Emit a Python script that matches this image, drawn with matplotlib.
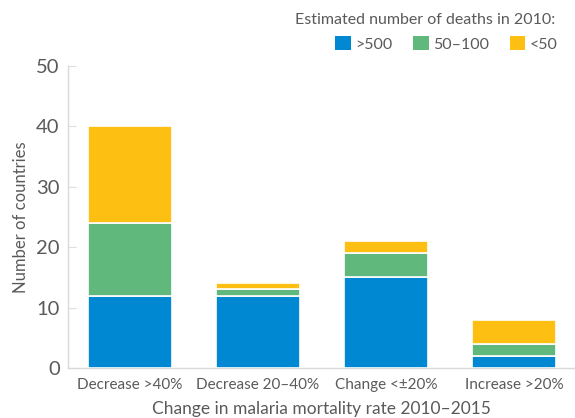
import matplotlib
matplotlib.use("Agg")
import matplotlib.pyplot as plt
from matplotlib.patches import Patch

categories = ["Decrease >40%", "Decrease 20–40%", "Change <±20%", "Increase >20%"]
series_names = [">500", "50–100", "<50"]
over500 = [12, 12, 15, 2]
mid50_100 = [12, 1, 4, 2]
under50 = [16, 1, 2, 4]
colors = ["#0089D2", "#61B87C", "#FCBF12"]

plt.rcParams['font.family'] = ['Lato', 'DejaVu Sans']
txt = "#5a5a5a"

fig = plt.figure(figsize=(5.75, 4.18), dpi=100)
ax = fig.add_axes([68/575, 1-368/418, 1-68/575, (368-66)/418])

x = list(range(len(categories)))
bottom = [0]*len(categories)
for vals, c in zip([over500, mid50_100, under50], colors):
    ax.bar(x, vals, bottom=bottom, width=0.66, color=c, edgecolor="white", linewidth=1.2, zorder=3)
    bottom = [b+v for b, v in zip(bottom, vals)]

ax.set_xlim(-0.484, 3.477)
ax.set_ylim(0, 50)
ax.set_yticks([0, 10, 20, 30, 40, 50])
ax.set_xticks(x)
ax.set_xticklabels(categories, fontsize=11, color=txt)
ax.tick_params(axis='y', direction='in', length=6, color="#dddddd", labelsize=14.5, labelcolor=txt, pad=6)
ax.tick_params(axis='x', length=0, pad=7)
for s in ["top", "right"]:
    ax.spines[s].set_visible(False)
for s in ["left", "bottom"]:
    ax.spines[s].set_color("#d9d9d9")
    ax.spines[s].set_linewidth(1)
ax.set_ylabel("Number of countries", fontsize=12, color=txt, labelpad=5)
ax.set_xlabel("Change in malaria mortality rate 2010–2015", fontsize=12.5, color=txt, labelpad=7)

fig.text(555/575, 1-20/418, "Estimated number of deaths in 2010:", ha="right", va="center", fontsize=11.5, color=txt)
handles = [Patch(facecolor=c, edgecolor="none") for c in colors]
fig.legend(handles, series_names, loc="center right", bbox_to_anchor=(558/575, 1-44/418), ncol=3,
           frameon=False, fontsize=11.5, labelcolor=txt, handlelength=0.95, handleheight=0.95,
           handletextpad=0.3, columnspacing=1.3, borderaxespad=0, borderpad=0)

fig.savefig("out.png", dpi=100)
